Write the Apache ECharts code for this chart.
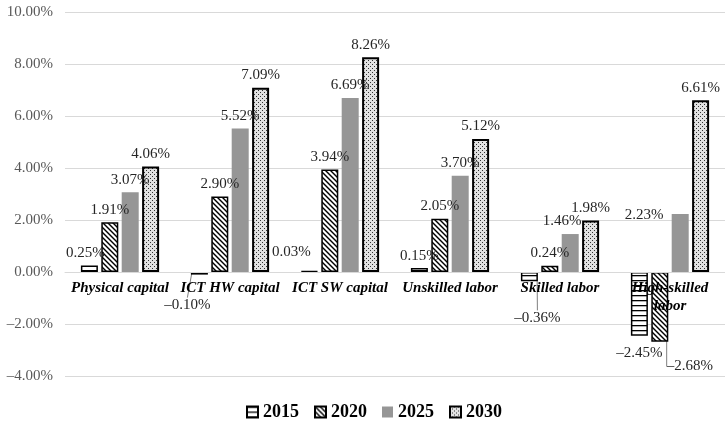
<!DOCTYPE html>
<html>
<head>
<meta charset="utf-8">
<script src="https://cdn.jsdelivr.net/npm/echarts@6/dist/echarts.min.js"></script>
<style>
  html, body { margin: 0; padding: 0; background: #fff; }
  #chart { width: 725px; height: 425px; }
</style>
</head>
<body>
<div id="chart"></div>
<script>
// Factor categories and yearly growth contributions (%)
const categories = ['Physical capital', 'ICT HW capital', 'ICT SW capital', 'Unskilled labor', 'Skilled labor', 'High-skilled\nlabor'];
const years = ['2015', '2020', '2025', '2030'];
const values2015 = [0.25, -0.10, 0.03, 0.15, -0.36, -2.45];
const values2020 = [1.91, 2.90, 3.94, 2.05, 0.24, -2.68];
const values2025 = [3.07, 5.52, 6.69, 3.70, 1.46, 2.23];
const values2030 = [4.06, 7.09, 8.26, 5.12, 1.98, 6.61];
const yTicks = { min: -4, max: 10, step: 2 };

const SERIF = '"Liberation Serif", "Times New Roman", serif';
const DASH = '\u2013';
const fmtPct = v => (v < 0 ? DASH : '') + Math.abs(v).toFixed(2) + '%';

// Fill patterns for each year
function makePattern(w, h, draw) {
  const c = document.createElement('canvas');
  c.width = w; c.height = h;
  const ctx = c.getContext('2d');
  draw(ctx, w, h);
  return { image: c, repeat: 'repeat' };
}
const hStripes = makePattern(6, 5, (ctx, w, h) => {
  ctx.fillStyle = '#fff'; ctx.fillRect(0, 0, w, h);
  ctx.fillStyle = '#000'; ctx.fillRect(0, 0, w, 1.3);
});
const diagStripes = makePattern(5, 5, (ctx, w, h) => {
  ctx.fillStyle = '#fff'; ctx.fillRect(0, 0, w, h);
  ctx.strokeStyle = '#000'; ctx.lineWidth = 1.4;
  for (const k of [-5, 0, 5]) {
    ctx.beginPath(); ctx.moveTo(k - 1, -1); ctx.lineTo(k + 6, 6); ctx.stroke();
  }
});
const dots = makePattern(4, 4, (ctx, w, h) => {
  ctx.fillStyle = '#e2e2e2'; ctx.fillRect(0, 0, w, h);
  ctx.fillStyle = '#333';
  ctx.fillRect(0, 0, 1, 1); ctx.fillRect(2, 2, 1, 1);
});

const seriesValues = [values2015, values2020, values2025, values2030];
const seriesStyles = [
  { color: hStripes, borderColor: '#000', borderWidth: 1.5 },
  { color: diagStripes, borderColor: '#000', borderWidth: 1.5 },
  { color: '#969696', borderWidth: 0 },
  { color: dots, borderColor: '#000', borderWidth: 2 }
];

// Hand-placed label shifts [dx, dy] keyed by series, category; third flag = guide line
const labelShift = {
  0: { 0: [-4, 0], 1: [-12, 18, true], 2: [-18, -6], 4: [8, 24, true], 5: [0, 5] },
  1: { 5: [30, 12, true] },
  2: { 4: [-8, 0], 5: [-36, 14] }
};

const series = seriesValues.map((vals, si) => ({
  name: years[si],
  type: 'bar',
  barWidth: 17,
  barGap: '20%',
  itemStyle: seriesStyles[si],
  data: vals.map((v, ci) => {
    const s = labelShift[si] && labelShift[si][ci];
    const item = { value: v, label: { position: v >= 0 ? 'top' : 'bottom' } };
    if (s && s[2]) item.labelLine = { show: true };
    return item;
  }),
  label: {
    show: true,
    distance: 5,
    fontFamily: SERIF,
    fontSize: 15,
    color: '#262626',
    formatter: p => fmtPct(p.value)
  },
  labelLine: { show: false, lineStyle: { color: '#7f7f7f', width: 1 } },
  labelLayout: p => {
    const s = labelShift[p.seriesIndex] && labelShift[p.seriesIndex][p.dataIndex];
    return s ? { dx: s[0], dy: s[1] } : {};
  }
}));

const chart = echarts.init(document.getElementById('chart'), null, { renderer: 'canvas' });
chart.setOption({
  animation: false,
  backgroundColor: '#fff',
  grid: { left: 65, right: -3, top: 12, bottom: 49 },
  legend: {
    data: years,
    left: 246,
    top: 403,
    padding: 0,
    icon: 'rect',
    itemWidth: 11,
    itemHeight: 11,
    itemGap: 15,
    textStyle: { fontFamily: SERIF, fontWeight: 'bold', fontSize: 18, color: '#000' }
  },
  xAxis: {
    type: 'category',
    data: categories,
    z: 10,
    axisLine: { onZero: false, lineStyle: { color: '#d9d9d9', width: 1 } },
    axisTick: { show: false },
    axisLabel: {
      interval: 0,
      margin: 7,
      fontFamily: SERIF,
      fontStyle: 'italic',
      fontWeight: 'bold',
      fontSize: 15,
      lineHeight: 18,
      color: '#000'
    }
  },
  yAxis: {
    type: 'value',
    min: yTicks.min,
    max: yTicks.max,
    interval: yTicks.step,
    axisLine: { show: false },
    axisTick: { show: false },
    splitLine: { lineStyle: { color: '#d9d9d9', width: 1 } },
    axisLabel: {
      margin: 12,
      fontFamily: SERIF,
      fontSize: 15,
      color: '#595959',
      formatter: fmtPct
    }
  },
  series: series
});

// Lift the category axis (line and labels) up to the zero value of the y scale
const zeroY = chart.convertToPixel({ yAxisIndex: 0 }, 0);
const baseY = chart.convertToPixel({ yAxisIndex: 0 }, yTicks.min);
chart.setOption({ xAxis: { offset: zeroY - baseY } });
</script>
</body>
</html>
